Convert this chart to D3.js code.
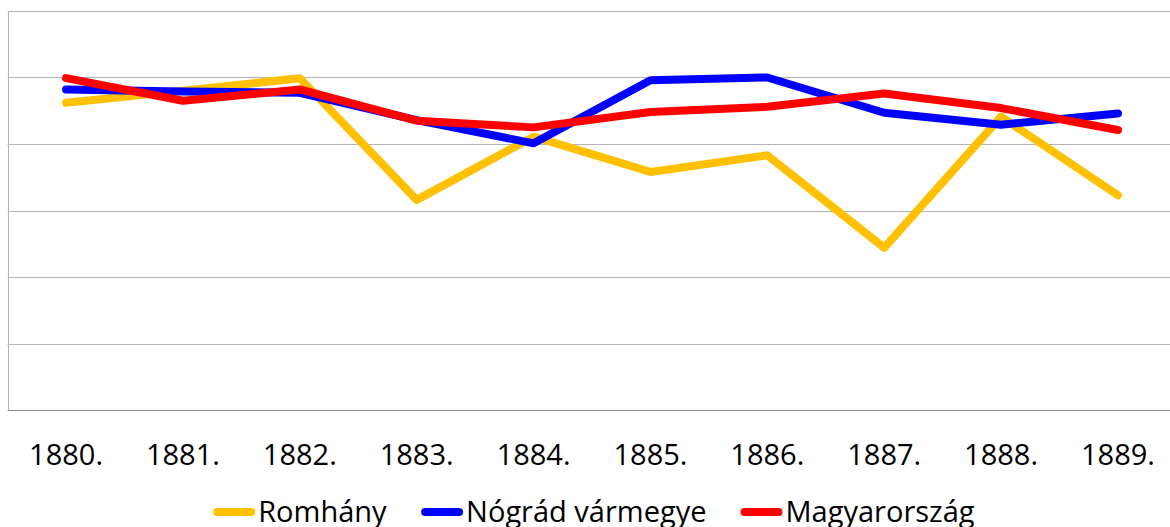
<!DOCTYPE html>
<html>
<head>
<meta charset="utf-8">
<script src="https://cdn.jsdelivr.net/npm/d3@7"></script>
<style>
  body { margin: 0; background: #fff; }
  svg { display: block; }
</style>
</head>
<body>
<svg id="chart" width="1170" height="527"></svg>
<script>
// data (y axis has no labels, scale 0-60)
const years = ['1880.', '1881.', '1882.', '1883.', '1884.', '1885.', '1886.', '1887.', '1888.', '1889.'];
const romhany = [46.2, 48.0, 49.9, 31.6, 41.1, 35.8, 38.3, 24.4, 44.1, 32.3];
const nograd = [48.2, 47.9, 47.7, 43.6, 40.1, 49.6, 50.0, 44.7, 42.9, 44.6];
const magyar = [49.9, 46.5, 48.2, 43.5, 42.5, 44.8, 45.6, 47.6, 45.4, 42.1];
const yTicks = [0, 10, 20, 30, 40, 50, 60];

const series = [
  { name: 'Romhány', color: '#FFC000', values: romhany },
  { name: 'Nógrád vármegye', color: '#0000FF', values: nograd },
  { name: 'Magyarország', color: '#FF0000', values: magyar }
];

const svg = d3.select('#chart');
const font = "'Open Sans', 'Noto Sans', sans-serif";
const fontSize = 29;

const plotLeft = 7.6, plotRight = 1176.4, plotTop = 11, plotBottom = 410;

const x = d3.scaleBand()
  .domain(years)
  .range([plotLeft, plotRight]);

const y = d3.scaleLinear()
  .domain([0, 60])
  .range([plotBottom, plotTop]);

// gridlines
svg.append('g')
  .selectAll('line')
  .data(yTicks)
  .enter().append('line')
  .attr('x1', plotLeft)
  .attr('x2', plotRight)
  .attr('y1', d => Math.round(y(d)) + 0.5)
  .attr('y2', d => Math.round(y(d)) + 0.5)
  .attr('stroke', d => d === 0 ? '#8c8c8c' : '#b4b4b4')
  .attr('stroke-width', 1);

// left border of plot area
svg.append('line')
  .attr('x1', Math.round(plotLeft) + 0.5)
  .attr('x2', Math.round(plotLeft) + 0.5)
  .attr('y1', y(60))
  .attr('y2', y(0))
  .attr('stroke', '#b4b4b4');

// x axis labels
const xAxis = svg.append('g')
  .attr('transform', `translate(0,${plotBottom})`)
  .call(d3.axisBottom(x).tickSize(0).tickPadding(0));
xAxis.select('.domain').remove();
xAxis.selectAll('text')
  .attr('y', 55)
  .attr('dy', null)
  .attr('font-family', font)
  .attr('font-size', fontSize)
  .attr('fill', '#000');

// lines
const line = d3.line()
  .x((d, i) => x(years[i]) + x.bandwidth() / 2)
  .y(d => y(d));

svg.append('g')
  .selectAll('path')
  .data(series)
  .enter().append('path')
  .attr('d', d => line(d.values))
  .attr('fill', 'none')
  .attr('stroke', d => d.color)
  .attr('stroke-width', 8)
  .attr('stroke-linejoin', 'round')
  .attr('stroke-linecap', 'round');

// legend
const legend = svg.append('g');
const items = legend.selectAll('g')
  .data(series)
  .enter().append('g');

items.append('line')
  .attr('x1', 4)
  .attr('x2', 38)
  .attr('y1', 0)
  .attr('y2', 0)
  .attr('stroke', d => d.color)
  .attr('stroke-width', 8)
  .attr('stroke-linecap', 'round');

items.append('text')
  .attr('x', 45)
  .attr('y', 10)
  .attr('font-family', font)
  .attr('font-size', fontSize)
  .attr('fill', '#000')
  .text(d => d.name);

let offset = 0;
const widths = [];
items.each(function () {
  widths.push(this.getBBox().width);
});
const gap = 38;
const total = d3.sum(widths) + gap * (widths.length - 1);
const startX = (plotLeft + plotRight) / 2 - total / 2;
items.attr('transform', (d, i) => {
  const tx = startX + offset;
  offset += widths[i] + gap;
  return `translate(${tx},512)`;
});
</script>
</body>
</html>
